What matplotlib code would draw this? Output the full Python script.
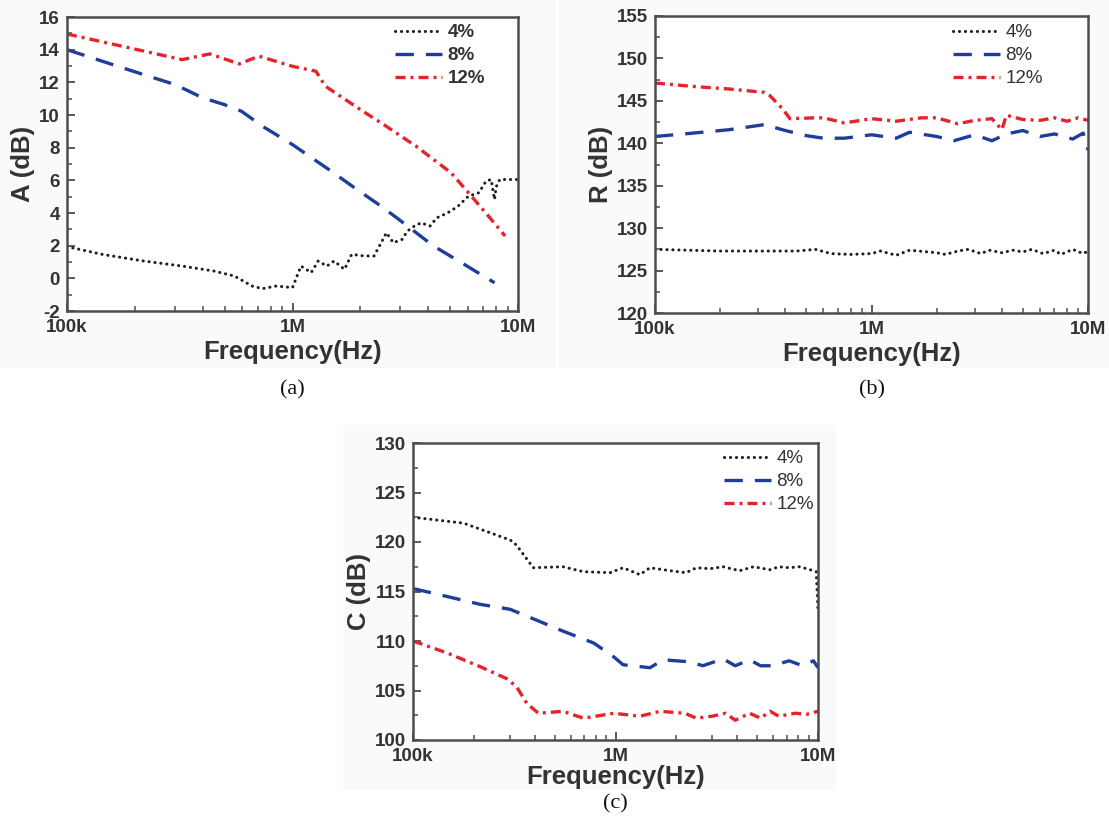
import matplotlib
matplotlib.use("Agg")
import matplotlib.pyplot as plt
from matplotlib.ticker import FixedLocator, MultipleLocator, NullFormatter
from matplotlib.patches import Rectangle

plt.rcParams["axes.unicode_minus"] = False

# ---------------- data ----------------
labels = ["4%", "8%", "12%"]

# Panel (a): A (dB)
a_f4 = [1e5, 1.43e5, 2.19e5, 3.24e5, 4.47e5, 5.53e5, 6.61e5, 7.36e5, 8.49e5, 1.0e6,
        1.09e6, 1.21e6, 1.30e6, 1.42e6, 1.53e6, 1.70e6, 1.83e6, 2.07e6, 2.30e6, 2.61e6,
        2.80e6, 3.06e6, 3.23e6, 3.47e6, 3.72e6, 4.07e6, 4.37e6, 4.87e6, 5.42e6, 6.03e6,
        6.71e6, 7.21e6, 7.60e6, 7.87e6, 8.0e6, 8.3e6, 1.0e7]
a_v4 = [1.94, 1.47, 1.06, 0.75, 0.45, 0.14, -0.47, -0.63, -0.47, -0.57,
        0.75, 0.35, 1.06, 0.75, 1.06, 0.55, 1.47, 1.37, 1.37, 2.79,
        2.18, 2.38, 2.89, 3.2, 3.4, 3.2, 3.71, 4.0, 4.42, 5.03,
        5.24, 5.95, 6.05, 4.83, 5.6, 6.05, 6.05]
a_f8 = [1e5, 1.59e5, 2.19e5, 3.02e5, 4.0e5, 4.98e5, 5.94e5, 7.36e5, 1.0e6, 1.13e6,
        1.45e6, 1.93e6, 2.47e6, 2.96e6, 4.22e6, 5.61e6, 7.87e6]
a_v8 = [14.0, 13.09, 12.47, 11.86, 11.05, 10.64, 10.23, 9.31, 8.19, 7.68,
        6.66, 5.44, 4.42, 3.61, 1.98, 0.96, -0.27]
a_f12 = [1e5, 3.24e5, 4.3e5, 5.8e5, 7.1e5, 1.0e6, 1.27e6, 1.4e6, 2.0e6, 2.47e6,
         3.53e6, 5.05e6, 6.03e6, 7.2e6, 8.77e6]
a_v12 = [14.96, 13.39, 13.74, 13.13, 13.6, 12.98, 12.68, 11.76, 10.33, 9.52,
         8.09, 6.46, 5.24, 4.0, 2.59]

# Panel (b): R (dB)
b_f4 = [1e5, 2e5, 3e5, 4.5e5, 5.5e5, 6.5e5, 8e5, 1.0e6, 1.1e6, 1.3e6, 1.5e6, 2.0e6,
        2.2e6, 2.5e6, 2.8e6, 3.2e6, 3.5e6, 4.0e6, 4.5e6, 5.0e6, 5.5e6, 6.2e6, 7.0e6,
        7.5e6, 8.5e6, 9.5e6, 1.0e7]
b_v4 = [127.5, 127.3, 127.3, 127.3, 127.5, 127.0, 126.9, 127.0, 127.3, 126.8, 127.4, 127.1,
        126.9, 127.3, 127.5, 127.0, 127.4, 127.1, 127.4, 127.2, 127.5, 127.0, 127.4,
        126.9, 127.5, 127.0, 127.3]
b_f8 = [1e5, 1.5e5, 2.2e5, 3.2e5, 4.0e5, 5.0e5, 6.0e5, 7.5e5, 1.0e6, 1.3e6, 1.5e6, 2.0e6,
        2.4e6, 3.0e6, 3.6e6, 4.2e6, 5.0e6, 6.0e6, 7.0e6, 8.5e6, 9.5e6, 1.0e7]
b_v8 = [140.8, 141.2, 141.6, 142.2, 141.5, 140.9, 140.6, 140.6, 141.0, 140.6, 141.3, 140.8,
        140.3, 141.0, 140.3, 141.1, 141.5, 140.8, 141.1, 140.5, 141.2, 139.2]
b_f12 = [1e5, 1.5e5, 2.2e5, 3.2e5, 3.4e5, 3.9e5, 4.2e5, 5.5e5, 6.0e5, 7.5e5, 1.0e6,
         1.3e6, 1.7e6, 2.0e6, 2.5e6, 3.0e6, 3.6e6, 4.0e6, 4.2e6, 5.0e6, 6.0e6, 7.0e6,
         8.0e6, 9.0e6, 1.0e7]
b_v12 = [147.1, 146.7, 146.4, 146.0, 145.6, 144.0, 142.9, 143.0, 143.0, 142.4, 142.9,
         142.6, 143.0, 143.0, 142.3, 142.7, 142.9, 141.6, 143.3, 142.8, 142.7, 143.0,
         142.6, 143.0, 142.7]

# Panel (c): C (dB)
c_f4 = [1e5, 1.78e5, 3.02e5, 3.24e5, 3.58e5, 3.93e5, 5.5e5, 6.95e5, 9.4e5, 1.09e6,
        1.32e6, 1.48e6, 1.86e6, 2.23e6, 2.51e6, 2.92e6, 3.4e6, 4.1e6, 4.8e6, 5.8e6,
        6.4e6, 7.2e6, 8.1e6, 8.8e6, 9.8e6, 1.0e7]
c_v4 = [122.5, 121.9, 120.2, 119.7, 118.5, 117.4, 117.5, 117.0, 116.9, 117.4,
        116.7, 117.4, 117.1, 116.9, 117.4, 117.3, 117.5, 117.1, 117.5, 117.2,
        117.5, 117.4, 117.5, 117.3, 117.0, 113.1]
c_f8 = [1e5, 1.47e5, 2.15e5, 3.02e5, 4.08e5, 5.5e5, 7.8e5, 9.8e5, 1.09e6, 1.48e6,
        1.72e6, 2.32e6, 2.7e6, 3.4e6, 3.9e6, 4.6e6, 5.2e6, 6.0e6, 7.2e6, 8.4e6,
        9.5e6, 1.0e7]
c_v8 = [115.3, 114.5, 113.7, 113.2, 112.1, 111.0, 109.8, 108.4, 107.6, 107.3,
        108.1, 107.9, 107.5, 108.2, 107.5, 108.1, 107.5, 107.5, 108.0, 107.5,
        108.0, 107.3]
c_f12 = [1e5, 1.47e5, 2.15e5, 2.9e5, 3.24e5, 3.65e5, 4.16e5, 5.5e5, 6.95e5, 9.8e5,
         1.32e6, 1.66e6, 2.2e6, 2.51e6, 3.0e6, 3.5e6, 3.9e6, 4.6e6, 5.2e6, 5.8e6,
         6.4e6, 7.7e6, 8.8e6, 1.0e7]
c_v12 = [110.0, 108.8, 107.4, 106.2, 105.4, 103.7, 102.7, 102.9, 102.2, 102.7,
         102.4, 102.9, 102.7, 102.2, 102.4, 102.7, 102.0, 102.7, 102.2, 102.9,
         102.4, 102.7, 102.6, 102.9]

x_ticks = [1e5, 1e6, 1e7]
x_tick_labels = ["100k", "1M", "10M"]

# ---------------- style ----------------
W, H = 1109, 831
fig = plt.figure(figsize=(W / 100, H / 100), dpi=100)
fig.patch.set_facecolor("white")

FONT = ["Liberation Sans", "DejaVu Sans"]
SERIF = ["Liberation Serif", "DejaVu Serif"]
TXT = "#333333"
SPINE = "#4d4d4d"
PANEL_BG = "#fafafa"

styles = [
    dict(color="#1e1e1e", linestyle=(0, (0.05, 1.9)), linewidth=2.2, dash_capstyle="round"),
    dict(color="#1f3d9c", linestyle=(0, (5.5, 3.6)), linewidth=2.4),
    dict(color="#e5232b", linestyle=(0, (3.0, 1.5, 0.9, 1.5)), linewidth=2.4),
]

# light panel backgrounds (scanned figure look)
for (x0, y0, x1, y1) in ((0, 0, 556, 368), (558, 0, 1109, 368), (343, 425, 836, 790)):
    fig.patches.append(Rectangle((x0 / W, 1 - y1 / H), (x1 - x0) / W, (y1 - y0) / H,
                                 transform=fig.transFigure, facecolor=PANEL_BG,
                                 edgecolor="none", zorder=-10))


def px_axes(left, right, top, bottom):
    ax = fig.add_axes([left / W, 1 - bottom / H, (right - left) / W, (bottom - top) / H])
    ax.set_facecolor("white")
    return ax


def style_axes(ax, ylim, ymajor, yminor, ylabel, bold_legend, leg_px, xlabelpad):
    ax.set_xscale("log")
    ax.set_xlim(1e5, 1e7)
    ax.set_ylim(*ylim)
    ax.set_xticks(x_ticks)
    ax.set_xticklabels(x_tick_labels)
    ax.xaxis.set_minor_locator(FixedLocator([m * d for d in (1e5, 1e6) for m in range(2, 10)]))
    ax.xaxis.set_minor_formatter(NullFormatter())
    ax.yaxis.set_major_locator(MultipleLocator(ymajor))
    ax.yaxis.set_minor_locator(MultipleLocator(yminor))
    ax.tick_params(which="both", direction="in", colors=SPINE, labelcolor=TXT)
    ax.tick_params(which="major", length=6, width=1.3, labelsize=13.5)
    ax.tick_params(axis="x", which="major", pad=6)
    ax.tick_params(axis="y", which="major", pad=5)
    ax.tick_params(which="minor", length=3.5, width=1.1)
    for lab in ax.get_xticklabels() + ax.get_yticklabels():
        lab.set_fontweight("bold")
        lab.set_family(FONT)
    for s in ax.spines.values():
        s.set_color(SPINE)
        s.set_linewidth(1.8)
    ax.set_xlabel("Frequency(Hz)", fontsize=18.5, fontweight="bold", family=FONT,
                  color=TXT, labelpad=xlabelpad)
    ax.set_ylabel(ylabel, fontsize=18.5, fontweight="bold", family=FONT, color=TXT, labelpad=3)
    leg = ax.legend(loc="upper right", frameon=False, handlelength=2.5, handletextpad=0.3,
                    labelspacing=0.32, borderpad=0, borderaxespad=0,
                    bbox_to_anchor=(leg_px[0] / W, 1 - leg_px[1] / H),
                    bbox_transform=fig.transFigure,
                    prop=dict(family=FONT, size=13.5, weight="bold" if bold_legend else "normal"))
    for t in leg.get_texts():
        t.set_color(TXT)


def plot_panel(ax, series):
    for (f, v), lab, st in zip(series, labels, styles):
        ax.plot(f, v, label=lab, **st)


# panel (a)
ax_a = px_axes(67, 518, 17, 311)
plot_panel(ax_a, [(a_f4, a_v4), (a_f8, a_v8), (a_f12, a_v12)])
style_axes(ax_a, (-2, 16), 2, 1, "A (dB)", True, (485, 24), 3)

# panel (b)
ax_b = px_axes(655, 1088, 16, 313)
plot_panel(ax_b, [(b_f4, b_v4), (b_f8, b_v8), (b_f12, b_v12)])
style_axes(ax_b, (120, 155), 5, 2.5, "R (dB)", False, (1043, 24), 3)

# panel (c)
ax_c = px_axes(413, 818, 443, 740)
plot_panel(ax_c, [(c_f4, c_v4), (c_f8, c_v8), (c_f12, c_v12)])
style_axes(ax_c, (100, 130), 5, 2.5, "C (dB)", False, (814, 450), 0)

# captions
for ax, cap, ypx in ((ax_a, "(a)", 390), (ax_b, "(b)", 390), (ax_c, "(c)", 804)):
    pos = ax.get_position()
    fig.text((pos.x0 + pos.x1) / 2, 1 - ypx / H, cap, ha="center", va="center",
             fontsize=16, family=SERIF, color="#111111")

fig.savefig("out.png", dpi=100, facecolor="white")
